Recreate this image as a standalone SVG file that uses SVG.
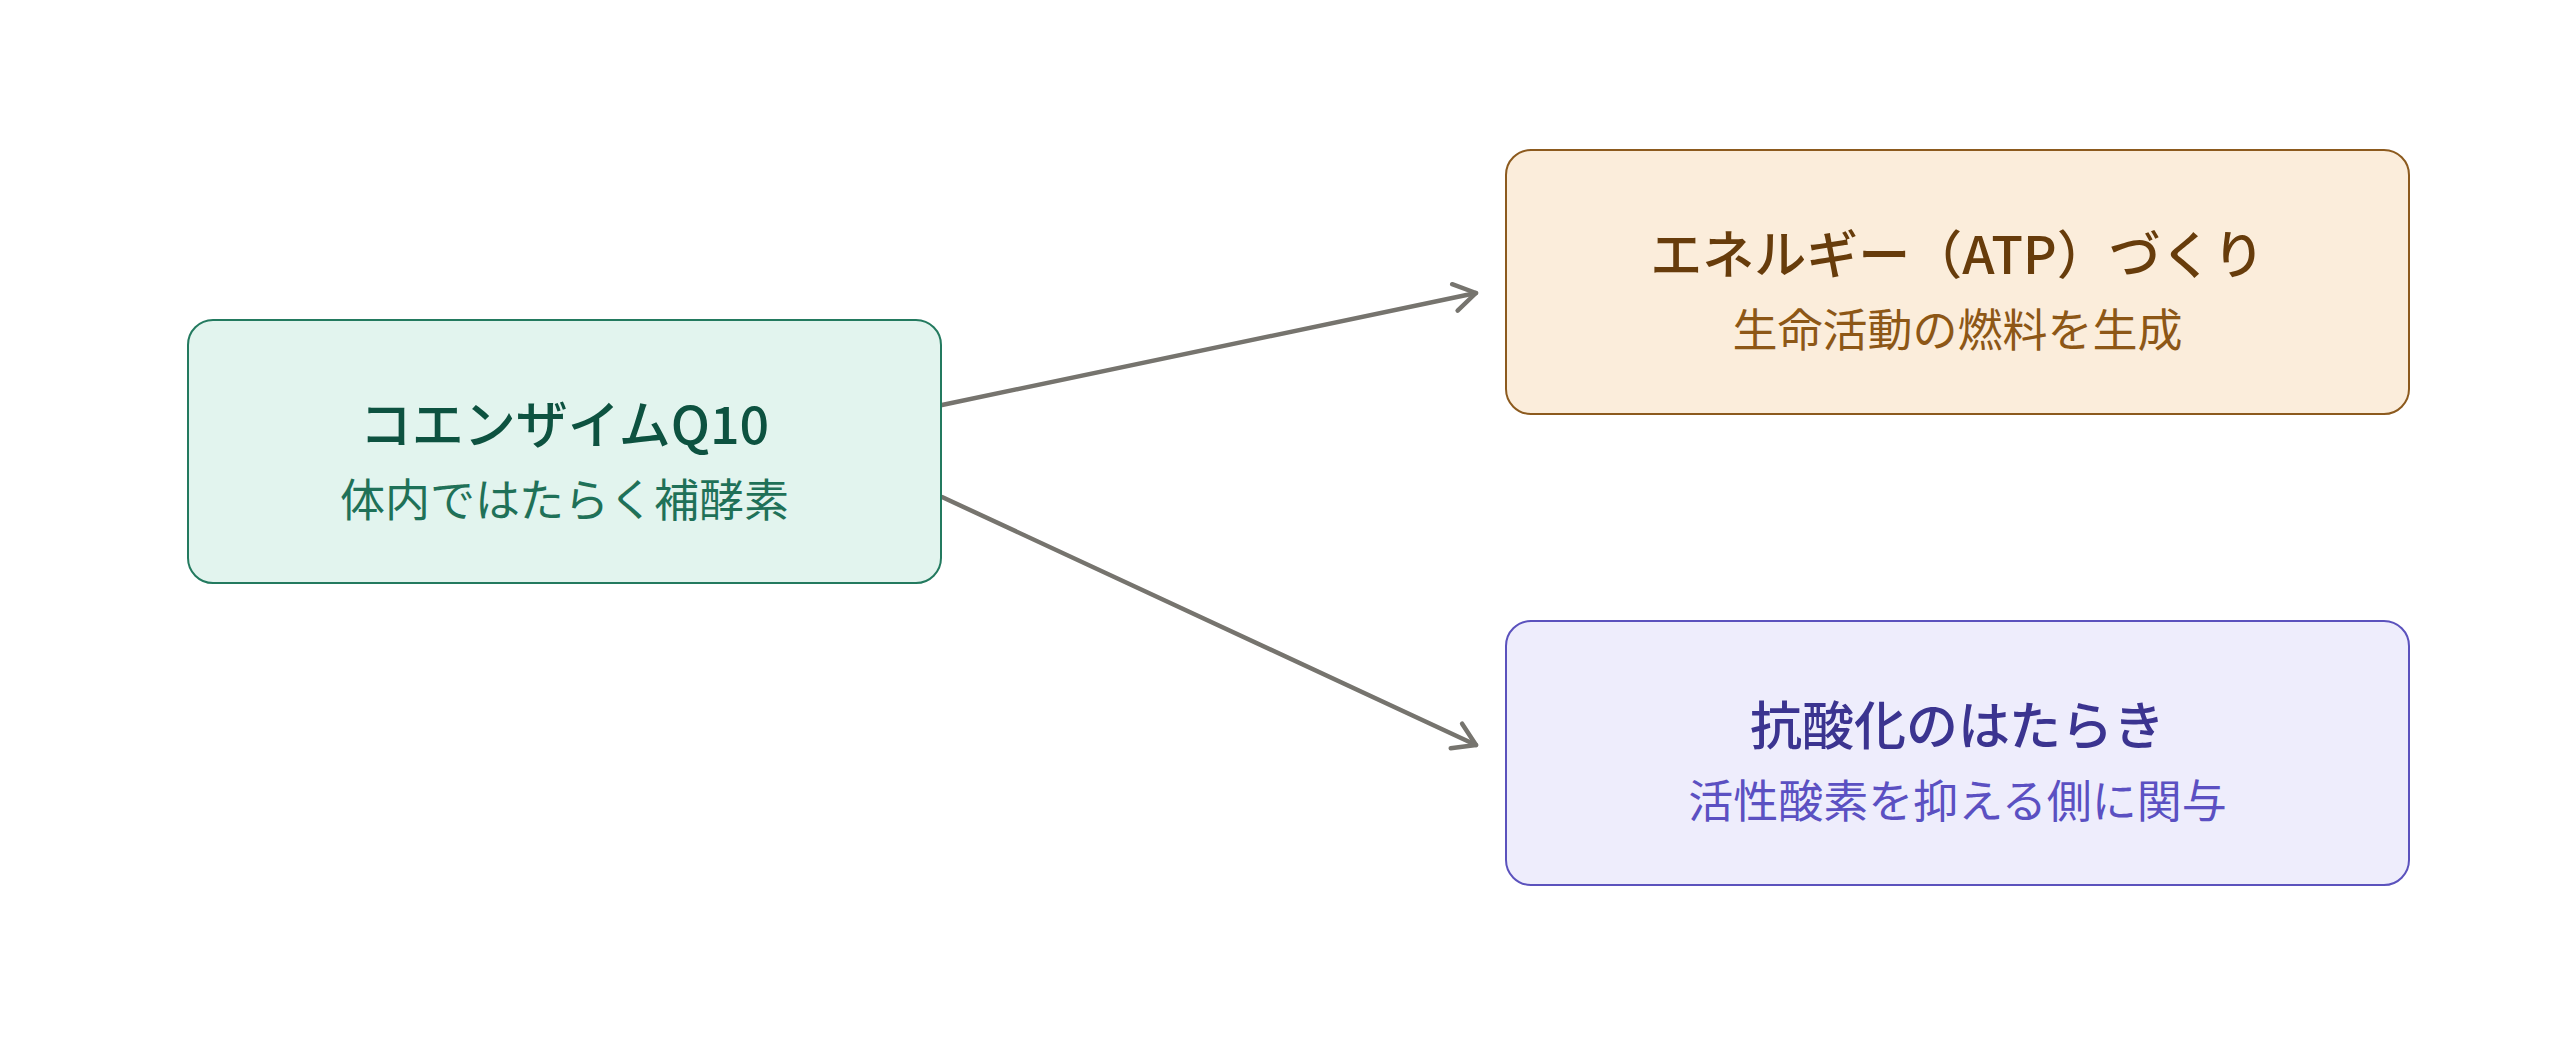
<svg xmlns="http://www.w3.org/2000/svg" width="2560" height="1054" viewBox="0 0 2560 1054">
<style>
  .box { stroke-width: 2; }
  .title { font-family: "Noto Sans CJK JP", "Noto Sans", sans-serif; font-size: 52px; font-weight: 500; text-anchor: middle; }
  .sub { font-family: "Noto Sans CJK JP", "Noto Sans", sans-serif; font-size: 45px; font-weight: 400; text-anchor: middle; }
  .edge { fill: none; stroke: #76746e; stroke-width: 4.5; stroke-linecap: round; }
</style>
<defs>
  <marker id="arrow" markerUnits="userSpaceOnUse" viewBox="-30 -20 40 40" refX="0" refY="0" markerWidth="40" markerHeight="40" orient="auto">
    <path d="M-21.6,-13.5 L0,0 L-21.6,13.5" fill="none" stroke="#76746e" stroke-width="4.5" stroke-linecap="round" stroke-linejoin="round"/>
  </marker>
</defs>
<rect x="0" y="0" width="2560" height="1054" fill="#ffffff"/>
<g id="connectors">
  <line class="edge" x1="942" y1="405" x2="1476" y2="293" marker-end="url(#arrow)"/>
  <line class="edge" x1="942" y1="497" x2="1476" y2="745" marker-end="url(#arrow)"/>
</g>
<g id="node-coq10">
  <rect class="box" x="188" y="320" width="753" height="263" rx="25" ry="25" fill="#e2f4ee" stroke="#237a5f"/>
  <text class="title" x="564.5" y="444" fill="#0d5240">コエンザイムQ10</text>
  <text class="sub" x="564.5" y="517" fill="#1f7158">体内ではたらく補酵素</text>
</g>
<g id="node-atp">
  <rect class="box" x="1506" y="150" width="903" height="264" rx="25" ry="25" fill="#fbeddb" stroke="#8c5a1e"/>
  <text class="title" x="1957.5" y="274" fill="#673c0b">エネルギー（ATP）づくり</text>
  <text class="sub" x="1957.5" y="347" fill="#8d5716">生命活動の燃料を生成</text>
</g>
<g id="node-antioxidant">
  <rect class="box" x="1506" y="621" width="903" height="264" rx="25" ry="25" fill="#eeedfc" stroke="#5b52bd"/>
  <text class="title" x="1957.5" y="745" fill="#3b3490">抗酸化のはたらき</text>
  <text class="sub" x="1957.5" y="818" fill="#5b50c2">活性酸素を抑える側に関与</text>
</g>
</svg>
